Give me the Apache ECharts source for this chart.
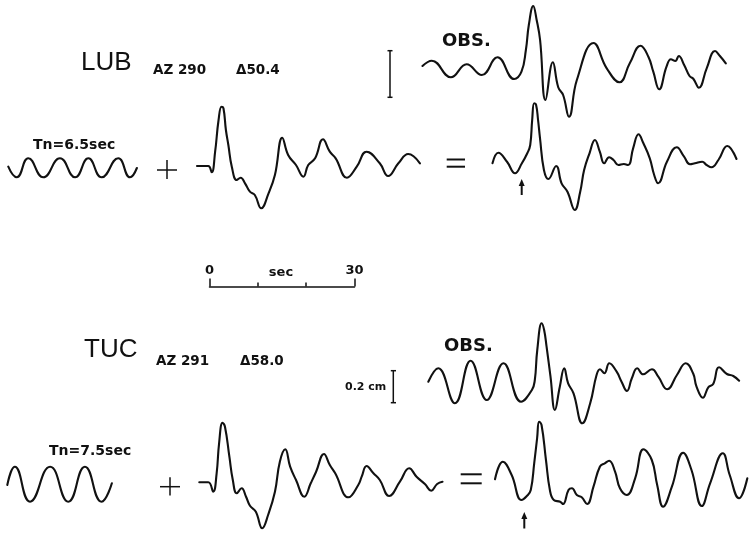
<!DOCTYPE html>
<html><head><meta charset="utf-8">
<script src="https://cdn.jsdelivr.net/npm/echarts@6/dist/echarts.min.js"></script>
<style>html,body{margin:0;padding:0;background:#fff}#c{width:753px;height:534px}</style>
</head><body><div id="c"></div>
<script>
// ---- data: [time (sec), relative amplitude] ----
const lubObs = [[0.1,0.4],[2.0,0.93],[5.9,-0.73],[9.1,0.57],[12.2,-0.5],[15.4,1.27],[18.8,-0.9],[20.3,-0.17],[21.2,2.0],[21.8,4.5],[22.7,6.4],[23.4,5.0],[24.1,3.0],[25.2,-3.0],[26.7,0.77],[27.8,-1.73],[28.8,-2.5],[30.0,-4.67],[31.6,-1.0],[35.0,2.7],[37.7,0.17],[40.3,-1.23],[42.4,0.67],[44.6,2.43],[46.2,1.33],[47.2,-0.17],[48.4,-1.93],[49.9,0.33],[50.8,1.07],[51.7,0.9],[52.4,1.4],[53.5,0.5],[54.6,-0.6],[55.4,-0.9],[56.5,-1.77],[58.1,0.17],[59.8,1.9],[60.8,1.4],[62.0,0.67]];
const lubSine = [[0.06,0.13],[1.78,-0.93],[4.14,0.97],[7.2,-0.93],[10.6,0.97],[13.7,-0.93],[16.4,0.97],[19.1,-0.93],[22.5,0.97],[24.9,-0.93],[26.3,0]];
const lubSyn = [[0,0],[2.3,0],[3.0,-0.63],[3.7,1.43],[4.4,4.6],[5.0,5.93],[5.4,5.77],[5.9,3.6],[6.4,2.1],[7.1,-0.07],[8.1,-1.4],[8.9,-1.17],[9.8,-1.73],[10.8,-2.57],[11.8,-2.9],[13.1,-4.23],[14.6,-2.73],[15.9,-0.9],[17.4,2.83],[18.6,1.1],[20.2,0.1],[21.7,-1.07],[22.7,0.1],[24.1,0.77],[25.7,2.67],[27.1,1.43],[28.3,0.77],[30.6,-1.17],[32.6,-0.07],[34.6,1.43],[37.3,0.27],[39.0,-1.0],[41.1,0.27],[43.1,1.2],[45.5,0.27]];
const lubSum = [[0.1,-0.03],[1.3,1.03],[3.1,0.1],[4.7,-1.03],[6.1,-0.03],[7.2,0.97],[7.8,1.8],[8.2,4.3],[8.6,5.97],[9.0,5.8],[9.4,4.3],[9.8,2.47],[10.6,-0.7],[11.5,-1.6],[13.1,-0.3],[14.2,-2.03],[15.4,-2.87],[16.9,-4.7],[18.0,-2.87],[18.8,-0.7],[19.9,0.97],[21.0,2.3],[22.0,1.13],[22.9,-0.03],[23.9,0.57],[24.8,0.3],[25.8,-0.2],[26.9,-0.1],[27.8,-0.2],[28.8,1.47],[29.9,2.87],[30.9,1.97],[32.2,0.47],[33.1,-1.2],[33.9,-2.03],[35.7,0.13],[37.7,1.57],[39.2,0.63],[40.4,-0.13],[41.4,-0.03],[42.9,0.13],[43.8,-0.2],[44.8,-0.43],[46.2,0.3],[48.0,1.7],[49.9,0.4]];
const tucObs = [[0.06,0.03],[2.1,1.37],[5.5,-2.13],[8.7,2.13],[12.0,-1.8],[15.4,1.87],[19.0,-1.97],[21.2,-0.8],[21.8,0.2],[22.3,3.2],[23.2,5.87],[23.7,5.2],[24.2,3.53],[25.0,0.53],[25.9,-2.8],[26.9,-0.47],[27.8,1.37],[28.6,-0.13],[29.7,-1.13],[31.5,-4.13],[33.1,-2.13],[34.4,0.7],[35.1,1.27],[36.0,0.87],[37.0,1.87],[38.5,1.03],[39.5,0.03],[40.6,-0.9],[41.6,0.37],[42.7,1.37],[43.9,0.77],[45.7,1.27],[47.0,0.53],[48.8,-0.73],[50.8,0.7],[52.6,1.87],[54.1,0.87],[54.8,-0.47],[56.1,-1.57],[57.2,-0.53],[58.2,-0.2],[59.4,1.47],[61.0,0.8],[62.3,0.6],[63.5,0.13]];
const tucSine = [[0.06,-0.1],[1.6,1.73],[4.7,-1.77],[8.8,1.73],[12.5,-1.77],[15.9,1.73],[19.3,-1.77],[21.4,0.07]];
const tucSyn = [[0.06,-0.03],[1.9,-0.03],[2.9,-0.97],[3.6,0.87],[4.1,3.87],[4.8,5.93],[5.3,5.53],[6.2,2.53],[6.9,0.2],[7.7,-1.13],[8.7,-0.63],[9.6,-1.47],[10.4,-2.37],[11.6,-2.97],[12.9,-4.63],[14.1,-3.3],[15.5,-0.97],[16.5,2.03],[17.6,3.27],[18.6,1.53],[19.8,0.2],[21.5,-1.47],[22.8,-0.13],[23.9,1.03],[25.5,2.8],[26.7,1.7],[27.8,0.87],[30.5,-1.53],[32.5,-0.3],[33.2,0.53],[34.2,1.6],[35.6,0.87],[36.9,0.2],[38.8,-1.4],[41.0,0.03],[42.9,1.37],[44.4,0.53],[46.1,-0.2],[47.4,-0.87],[48.6,-0.2],[49.7,0.03]];
const tucSum = [[0,0.07],[1.6,1.83],[3.4,0.5],[5.4,-2.0],[6.5,-1.6],[7.3,-1.0],[8.0,1.67],[8.6,4.2],[9.0,5.83],[9.5,5.5],[10.4,2.0],[11.2,-1.0],[12.0,-2.0],[13.3,-2.17],[13.9,-2.4],[15.0,-1.0],[15.7,-0.83],[16.7,-1.5],[17.7,-1.73],[18.8,-2.4],[20.1,-0.67],[21.4,1.33],[22.4,1.67],[23.3,1.93],[24.5,0.83],[25.5,-0.83],[26.9,-1.5],[28.6,0.17],[30.3,3.07],[32.0,2.0],[33.1,-0.5],[34.3,-2.67],[36.1,-0.67],[38.4,2.73],[40.1,1.0],[42.2,-2.6],[43.9,-0.33],[46.5,2.67],[47.9,0.5],[49.8,-1.83],[51.5,0.17]];
const scaleTicks = ['0', 'sec', '30'];

// ---- layout ----
const PX_PER_SEC = 4.9, PX_PER_UNIT = 10;
const traces = [
  {data: lubObs,  left: 422, base: 70,  ymin: -5, ymax: 7, smooth: 0.45},
  {data: lubSine, left: 8,   base: 168, ymin: -2, ymax: 2, smooth: 0.5},
  {data: lubSyn,  left: 197, base: 166, ymin: -5, ymax: 7, smooth: 0.45},
  {data: lubSum,  left: 492, base: 163, ymin: -5, ymax: 7, smooth: 0.45},
  {data: tucObs,  left: 428, base: 382, ymin: -5, ymax: 7, smooth: 0.45},
  {data: tucSine, left: 7,   base: 484, ymin: -2, ymax: 2, smooth: 0.5},
  {data: tucSyn,  left: 199, base: 482, ymin: -5, ymax: 7, smooth: 0.45},
  {data: tucSum,  left: 495, base: 480, ymin: -5, ymax: 7, smooth: 0.45}
];
const INK = '#111';
const grid = [], xAxis = [], yAxis = [], series = [];
traces.forEach((t, i) => {
  const tmax = t.data[t.data.length - 1][0];
  grid.push({left: t.left, top: t.base - t.ymax * PX_PER_UNIT, width: tmax * PX_PER_SEC,
             height: (t.ymax - t.ymin) * PX_PER_UNIT, outerBoundsMode: 'none', containLabel: false});
  xAxis.push({type: 'value', gridIndex: i, min: 0, max: tmax, show: false});
  yAxis.push({type: 'value', gridIndex: i, min: t.ymin, max: t.ymax, show: false});
  series.push({type: 'line', xAxisIndex: i, yAxisIndex: i, data: t.data, smooth: t.smooth,
               showSymbol: false, silent: true, clip: false, lineStyle: {color: INK, width: 2.1, join: 'round', cap: 'round'}});
});
// time scale bar (0 - 30 sec)
const sg = traces.length;
grid.push({left: 209.5, top: 266, width: 145, height: 20.5, outerBoundsMode: 'none', containLabel: false});
xAxis.push({type: 'value', gridIndex: sg, min: 0, max: 30, interval: 10, position: 'bottom',
  axisLine: {show: true, lineStyle: {color: INK, width: 1.5}},
  axisTick: {show: true, inside: true, length: 4, lineStyle: {color: INK, width: 1.5}},
  axisLabel: {show: false}, splitLine: {show: false}});
xAxis.push({type: 'value', gridIndex: sg, min: 0, max: 30, interval: 30, position: 'bottom',
  axisLine: {show: false},
  axisTick: {show: true, inside: true, length: 8, lineStyle: {color: INK, width: 1.5}},
  axisLabel: {show: true, inside: true, margin: 9, color: INK, fontFamily: 'DejaVu Sans', fontWeight: 'bold', fontSize: 13,
              formatter: v => v === 0 ? scaleTicks[0] : scaleTicks[2]},
  splitLine: {show: false}});
yAxis.push({type: 'value', gridIndex: sg, min: 0, max: 1, show: false});
series.push({type: 'line', xAxisIndex: sg, yAxisIndex: sg, data: [], silent: true});

function txt(x, y, s, size, weight, family) {
  return {type: 'text', x, y, silent: true, style: {text: s, fill: INK, font: (weight || 'normal') + ' ' + size + 'px ' + (family || '"DejaVu Sans"'), textVerticalAlign: 'middle'}};
}
function ln(x1, y1, x2, y2, w) {
  return {type: 'line', silent: true, shape: {x1, y1, x2, y2}, style: {stroke: INK, lineWidth: w || 1.5}};
}
function arrow(x, y1, y2) {
  return [ln(x, y1 + 3, x, y2, 2),
    {type: 'polygon', silent: true, shape: {points: [[x, y1 - 1], [x - 3, y1 + 6], [x + 3, y1 + 6]]}, style: {fill: INK}}];
}
const graphic = [
  txt(81, 62.5, 'LUB', 26, 'normal', '"Liberation Sans"'),
  txt(153, 70, 'AZ 290', 13.5, 'bold'),
  txt(236, 70, 'Δ50.4', 13.5, 'bold'),
  txt(442, 41.5, 'OBS.', 18, 'bold'),
  txt(33, 145, 'Tn=6.5sec', 14, 'bold'),
  txt(84, 350, 'TUC', 26, 'normal', '"Liberation Sans"'),
  txt(156, 361.5, 'AZ 291', 13.5, 'bold'),
  txt(240, 361.5, 'Δ58.0', 13.5, 'bold'),
  txt(444, 346, 'OBS.', 18, 'bold'),
  txt(49, 451, 'Tn=7.5sec', 14, 'bold'),
  txt(345, 386.7, '0.2 cm', 11, 'bold'),
  {type: 'text', x: 281, y: 273, silent: true, style: {text: scaleTicks[1], fill: INK, font: 'bold 13px "DejaVu Sans"', textAlign: 'center', textVerticalAlign: 'middle'}},
  // plus signs
  ln(157, 170, 177, 170), ln(167, 160, 167, 179),
  ln(160, 486.7, 180, 486.7), ln(170, 477.3, 170, 495.5),
  // equal signs
  ln(446.7, 159.5, 465, 159.5, 2), ln(446.7, 166.7, 465, 166.7, 2),
  ln(460.7, 474.3, 481.7, 474.3, 2), ln(460.7, 483.3, 481.7, 483.3, 2),
  // amplitude bars
  ln(390, 50.7, 390, 97.3), ln(387.5, 50.7, 392.5, 50.7), ln(387.5, 97.3, 392.5, 97.3),
  ln(393.3, 370.7, 393.3, 402.7), ln(390.8, 370.7, 396, 370.7), ln(390.8, 402.7, 396, 402.7),
  ...arrow(521.7, 180, 195),
  ...arrow(524.3, 513, 528.5)
];

const chart = echarts.init(document.getElementById('c'), null, {renderer: 'canvas'});
chart.setOption({backgroundColor: '#fff', animation: false, grid, xAxis, yAxis, series, graphic});
</script>
</body></html>
